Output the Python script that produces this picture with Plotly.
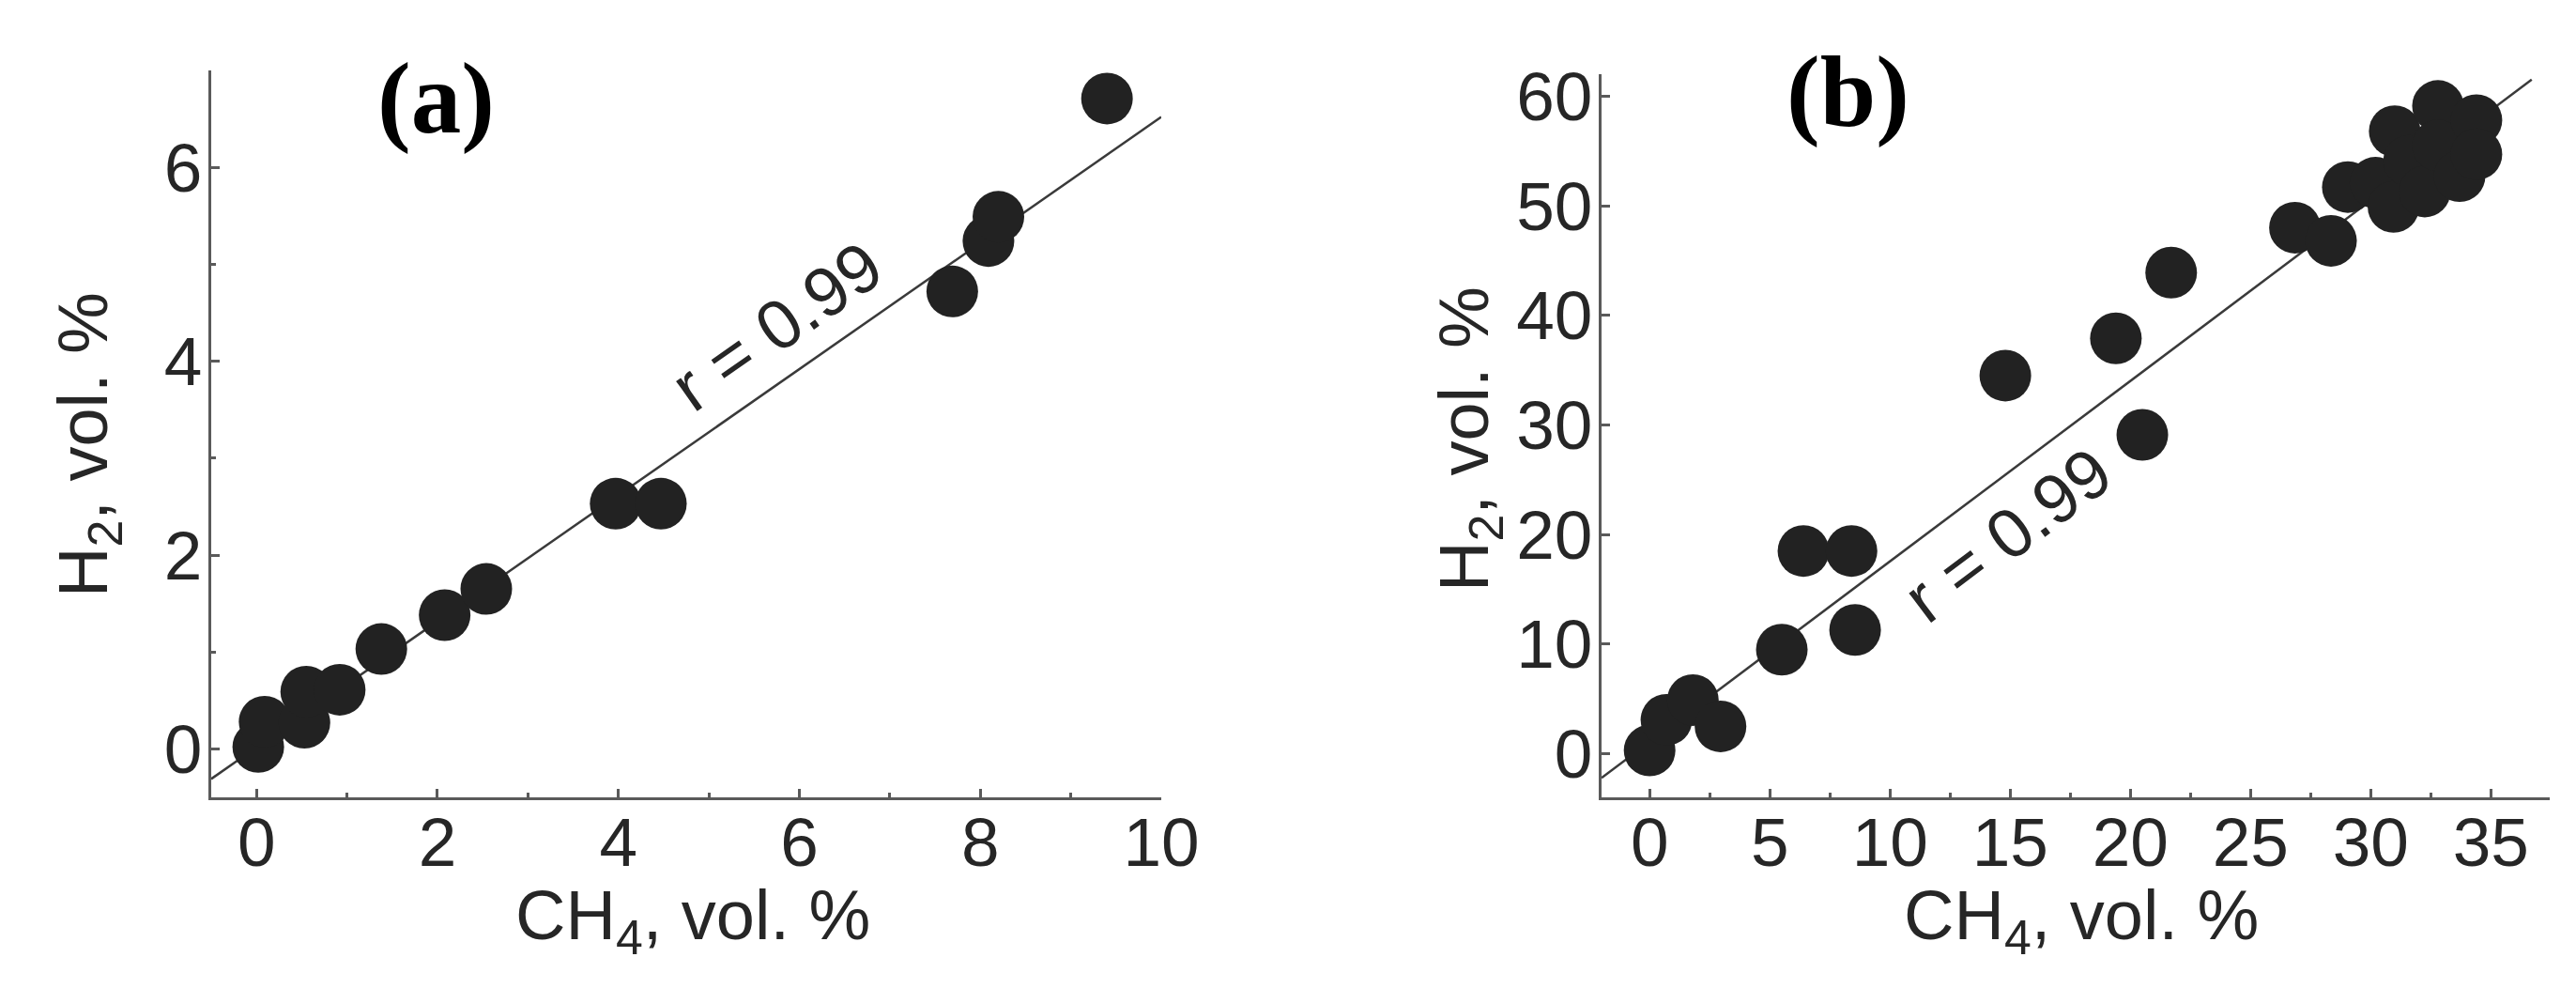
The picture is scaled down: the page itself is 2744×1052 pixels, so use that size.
import plotly.graph_objects as go

W, H = 2744, 1052
OFF = 8  # page body margin the browser adds around the figure

# ---------------- data: panel (a) ----------------
a_ch4 = [0.02, 0.09, 0.53, 0.55, 0.92, 1.38, 2.08, 2.54, 3.97, 4.47, 7.69, 8.09, 8.20, 9.40]
a_h2 = [0.02, 0.28, 0.27, 0.59, 0.61, 1.03, 1.38, 1.65, 2.53, 2.53, 4.72, 5.24, 5.49, 6.71]
a_fit_ch4 = [-0.5, 10.0]
a_fit_h2 = [-0.31, 6.52]
a_xticks = [0, 2, 4, 6, 8, 10]
a_xticklabels = ["0", "2", "4", "6", "8", "10"]
a_yticks = [0, 2, 4, 6]
a_yticklabels = ["0", "2", "4", "6"]

# ---------------- data: panel (b) ----------------
b_ch4 = [0.0, 0.7, 1.8, 2.95, 5.5, 6.4, 8.4, 8.55, 14.8, 19.4, 20.5, 21.7,
         26.85, 28.35, 29.05, 30.2, 30.95, 31.0, 31.6, 32.25, 32.8, 32.8, 33.7, 34.4, 34.4]
b_h2 = [0.3, 3.1, 4.9, 2.5, 9.5, 18.5, 18.5, 11.3, 34.5, 37.9, 29.1, 43.9,
        48.0, 46.8, 51.7, 52.1, 49.9, 56.8, 54.1, 51.3, 59.1, 55.5, 52.7, 57.8, 54.7]
b_fit_ch4 = [-2.0, 36.7]
b_fit_h2 = [-2.2, 61.5]
b_xticks = [0, 5, 10, 15, 20, 25, 30, 35]
b_xticklabels = ["0", "5", "10", "15", "20", "25", "30", "35"]
b_yticks = [0, 10, 20, 30, 40, 50, 60]
b_yticklabels = ["0", "10", "20", "30", "40", "50", "60"]

r_label = "r = 0.99"
x_title = "CH<sub>4</sub>, vol. %"
y_title = "H<sub>2</sub>, vol. %"

SANS = "Liberation Sans, Arial, Helvetica, sans-serif"
SERIF = "Liberation Serif, Times New Roman, serif"
TXT = "#262626"
AXC = "#5a5a5a"
MK = "#222222"

fig = go.Figure()

fig.add_trace(go.Scatter(x=a_fit_ch4, y=a_fit_h2, mode="lines",
                         line=dict(color="#3a3a3a", width=2.5),
                         xaxis="x", yaxis="y", showlegend=False, hoverinfo="skip"))
fig.add_trace(go.Scatter(x=b_fit_ch4, y=b_fit_h2, mode="lines",
                         line=dict(color="#3a3a3a", width=2.5),
                         xaxis="x2", yaxis="y2", showlegend=False, hoverinfo="skip"))
fig.add_trace(go.Scatter(x=a_ch4, y=a_h2, mode="markers",
                         marker=dict(size=55, color=MK, line=dict(width=0)),
                         xaxis="x", yaxis="y", showlegend=False))
fig.add_trace(go.Scatter(x=b_ch4, y=b_h2, mode="markers",
                         marker=dict(size=55, color=MK, line=dict(width=0)),
                         xaxis="x2", yaxis="y2", showlegend=False))

def ax(domain, rng, tickvals, ticktext, minor_dtick, anchor, standoff):
    d = dict(domain=domain, range=rng, tickmode="array", tickvals=tickvals,
             ticktext=ticktext, ticks="inside", ticklen=9, tickwidth=2.5,
             tickcolor=AXC, showline=True, linecolor=AXC, linewidth=3,
             showgrid=False, zeroline=False, mirror=False, anchor=anchor,
             automargin=False, ticklabelstandoff=standoff,
             tickfont=dict(family=SANS, size=73, color=TXT))
    if minor_dtick:
        d["minor"] = dict(dtick=minor_dtick, tick0=0, ticks="inside", ticklen=5,
                          tickwidth=2.5, tickcolor=AXC, showgrid=False)
    return d

def px_x(p):
    return (p - OFF) / W

def px_y(p):
    return 1 - (p - OFF) / H

xa_dom = [px_x(225), px_x(1237)]
ya_dom = [px_y(849), px_y(75)]
xb_dom = [px_x(1706), px_x(2716)]
yb_dom = [px_y(849.3), px_y(79)]

fig.update_layout(
    width=W, height=H, autosize=False,
    margin=dict(l=0, r=0, t=0, b=0, pad=0),
    paper_bgcolor="white", plot_bgcolor="white",
    xaxis=ax(xa_dom, [-0.5, 10.0], a_xticks, a_xticklabels, 1, "y", -18),
    yaxis=ax(ya_dom, [-0.5, 7.0], a_yticks, a_yticklabels, 1, "x", -8),
    xaxis2=ax(xb_dom, [-2.0, 37.45], b_xticks, b_xticklabels, 2.5, "y2", -18),
    yaxis2=ax(yb_dom, [-4.0, 62.0], b_yticks, b_yticklabels, None, "x2", -8),
)

ann = []
ann.append(dict(text="<b>(a)</b>", x=px_x(465), y=px_y(105), xref="paper", yref="paper",
                xanchor="center", yanchor="middle", showarrow=False,
                font=dict(family=SERIF, size=107, color="black")))
ann.append(dict(text="<b>(b)</b>", x=px_x(1968), y=px_y(98), xref="paper", yref="paper",
                xanchor="center", yanchor="middle", showarrow=False,
                font=dict(family=SERIF, size=107, color="black")))
for xc in (738, 2217):
    ann.append(dict(text=x_title, x=px_x(xc), y=px_y(980), xref="paper", yref="paper",
                    xanchor="center", yanchor="middle", showarrow=False,
                    font=dict(family=SANS, size=74, color=TXT)))
for xc, yc in ((94, 474), (1565, 468)):
    ann.append(dict(text=y_title, x=px_x(xc), y=px_y(yc), xref="paper", yref="paper",
                    xanchor="center", yanchor="middle", showarrow=False, textangle=-90,
                    font=dict(family=SANS, size=74, color=TXT)))
ann.append(dict(text=r_label, x=5.75, y=4.36, xref="x", yref="y", showarrow=False,
                xanchor="center", yanchor="middle", textangle=-35,
                font=dict(family=SANS, size=74, color=TXT)))
ann.append(dict(text=r_label, x=14.9, y=20.0, xref="x2", yref="y2", showarrow=False,
                xanchor="center", yanchor="middle", textangle=-37,
                font=dict(family=SANS, size=74, color=TXT)))
fig.update_layout(annotations=ann)

fig.write_html("out.html", config={"responsive": False})
